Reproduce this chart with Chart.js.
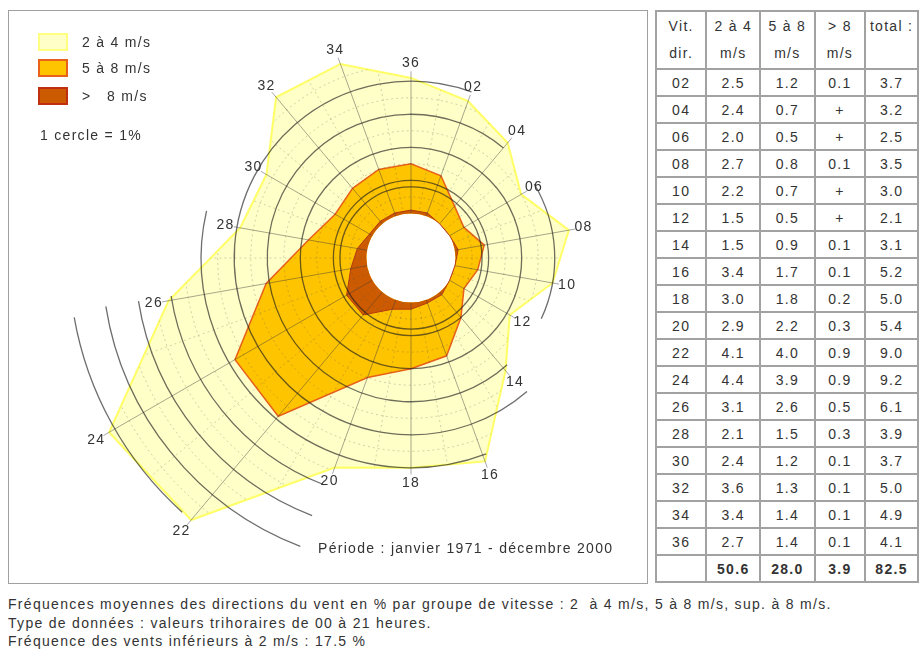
<!DOCTYPE html>
<html lang="fr">
<head>
<meta charset="utf-8">
<script src="https://cdn.jsdelivr.net/npm/chart.js@4.4.1/dist/chart.umd.min.js"></script>
<style>
  html, body { margin: 0; padding: 0; background: #fff; }
  body { width: 919px; height: 657px; overflow: hidden; position: relative;
         font-family: "Liberation Sans", Arial, sans-serif; font-size: 14px; letter-spacing: 1.3px; color: #333; }
  #panel { position: absolute; left: 8px; top: 10px; width: 638px; height: 572px; border: 1px solid #a0a0a0; overflow: hidden; }
  #rose { position: absolute; left: 22px; top: -133px; }
  .leg { position: absolute; left: 29px; width: 30px; height: 18px; box-sizing: border-box; }
  .legtxt { position: absolute; left: 73px; line-height: 18px; }
  #scale { position: absolute; left: 31px; top: 116px; }
  #period { position: absolute; left: 309px; top: 529px; }
  #tbl { position: absolute; left: 655px; top: 10px; border-collapse: collapse; }
  #tbl td { border: 2px solid #a2a2a2; text-align: center; padding: 0; height: 25px; }
  #tbl tr.head td { height: 56px; line-height: 27px; vertical-align: middle; }
  #tbl tr.sum td { font-weight: bold; }
  #foot { position: absolute; left: 8px; top: 595px; line-height: 18.5px; }
</style>
</head>
<body>
<div id="panel">
  <canvas id="rose" width="760" height="760"></canvas>
  <div id="legend"></div>
  <div id="scale">1 cercle = 1%</div>
  <div id="period">Période : janvier 1971 - décembre 2000</div>
</div>
<table id="tbl"></table>
<div id="foot">
  Fréquences moyennes des directions du vent en % par groupe de vitesse : 2 &nbsp;à 4 m/s, 5 à 8 m/s, sup. à 8 m/s.<br>
  Type de données : valeurs trihoraires de 00 à 21 heures.<br>
  Fréquence des vents inférieurs à 2 m/s : 17.5 %
</div>
<script>
// directions (tens of degrees) and frequencies in % per speed group
const directions = ['02','04','06','08','10','12','14','16','18','20','22','24','26','28','30','32','34','36'];
const freq2to4 = [2.5, 2.4, 2.0, 2.7, 2.2, 1.5, 1.5, 3.4, 3.0, 2.9, 4.1, 4.4, 3.1, 2.1, 2.4, 3.6, 3.4, 2.7];
const freq5to8 = [1.2, 0.7, 0.5, 0.8, 0.7, 0.5, 0.9, 1.7, 1.8, 2.2, 4.0, 3.9, 2.6, 1.5, 1.2, 1.3, 1.4, 1.4];
const freqOver8 = [0.1, 0, 0, 0.1, 0, 0, 0.1, 0.1, 0.2, 0.3, 0.9, 0.9, 0.5, 0.3, 0.1, 0.1, 0.1, 0.1];
const freqTotal = [3.7, 3.2, 2.5, 3.5, 3.0, 2.1, 3.1, 5.2, 5.0, 5.4, 9.0, 9.2, 6.1, 3.9, 3.7, 5.0, 4.9, 4.1];
const columnSums = [50.6, 28.0, 3.9, 82.5];
const seriesNames = ['2 à 4 m/s', '5 à 8 m/s', '>  8 m/s'];
const headTop = ['Vit.', '2 à 4', '5 à 8', '> 8', 'total :'];
const headBottom = ['dir.', 'm/s', 'm/s', 'm/s', ''];

const colYellow = '#ffffc8', colOrange = '#ffc400', colBrown = '#cc5a00';

// legend
const legColors = [[colYellow, '#ffff80'], [colOrange, '#e8601a'], [colBrown, '#c03010']];
const legTops = [22, 48, 76];
let legHtml = '';
seriesNames.forEach((n, i) => {
  legHtml += '<div class="leg" style="top:' + legTops[i] + 'px;background:' + legColors[i][0] +
             ';border:2px solid ' + legColors[i][1] + '"></div>';
  legHtml += '<div class="legtxt" style="top:' + legTops[i] + 'px">' + n.replace(/  /g, ' &nbsp; ') + '</div>';
});
document.getElementById('legend').innerHTML = legHtml;

// table
const fmt = v => v === 0 ? '+' : v.toFixed(1);
let tb = '<tr class="head">';
headTop.forEach((h, i) => { tb += '<td>' + h + '<br>' + (headBottom[i] || '&nbsp;') + '</td>'; });
tb += '</tr>';
directions.forEach((d, i) => {
  tb += '<tr><td>' + d + '</td><td>' + fmt(freq2to4[i]) + '</td><td>' + fmt(freq5to8[i]) +
        '</td><td>' + fmt(freqOver8[i]) + '</td><td>' + fmt(freqTotal[i]) + '</td></tr>';
});
tb += '<tr class="sum"><td></td>' + columnSums.map(v => '<td>' + v.toFixed(1) + '</td>').join('') + '</tr>';
const tbl = document.getElementById('tbl');
tbl.innerHTML = tb;
const colW = [50, 53, 54, 50, 52];
tbl.querySelectorAll('tr').forEach(tr => {
  tr.querySelectorAll('td').forEach((td, j) => { td.style.width = colW[j] + 'px'; });
});

// cumulative edges for the stacked rose
const edgeOrange = freq5to8.map((v, i) => +(v + freqOver8[i]).toFixed(2));

// grid circles: [value, start angle, end angle] (degrees clockwise from north)
const circleArcs = [
  [0.8, 0, 360], [1, 0, 360], [2, 0, 360],
  [3, 138, 400], [3, 59, 115],
  [4, 139, 380],
  [5, 159, 283],
  [6, 201, 261], [7, 201, 261], [8, 201, 261],
  [9, 222, 260]
];

const roseGrid = {
  id: 'roseGrid',
  afterDatasetsDraw(chart) {
    const s = chart.scales.r;
    const ctx = chart.ctx;
    const rad = a => (a - 90) * Math.PI / 180;
    const at = (i, v) => s.getPointPosition(i, s.getDistanceFromCenterForValue(v));
    ctx.save();

    // faint dotted sub-grid inside the outer polygon
    ctx.beginPath();
    directions.forEach((d, i) => {
      const p = at(i, freqTotal[i]);
      if (i === 0) ctx.moveTo(p.x, p.y); else ctx.lineTo(p.x, p.y);
    });
    ctx.closePath();
    ctx.clip();
    ctx.setLineDash([2, 3]);
    ctx.lineWidth = 1;
    ctx.strokeStyle = 'rgba(90,90,90,0.28)';
    for (let v = 0.5; v < 10; v += 1) {
      ctx.beginPath();
      ctx.arc(s.xCenter, s.yCenter, s.getDistanceFromCenterForValue(v), 0, Math.PI * 2);
      ctx.stroke();
    }
    directions.forEach((d, i) => {
      const a = rad(20 * i + 30);
      const r0 = s.getDistanceFromCenterForValue(0), r1 = s.getDistanceFromCenterForValue(10);
      ctx.beginPath();
      ctx.moveTo(s.xCenter + r0 * Math.cos(a), s.yCenter + r0 * Math.sin(a));
      ctx.lineTo(s.xCenter + r1 * Math.cos(a), s.yCenter + r1 * Math.sin(a));
      ctx.stroke();
    });
    ctx.restore();

    ctx.save();
    ctx.lineWidth = 1;
    ctx.strokeStyle = 'rgba(60,60,60,0.45)';
    directions.forEach((d, i) => {
      const p0 = at(i, 0);
      const p1 = at(i, freqTotal[i] + 0.2);
      ctx.beginPath();
      ctx.moveTo(p0.x, p0.y);
      ctx.lineTo(p1.x, p1.y);
      ctx.stroke();
    });
    ctx.lineWidth = 1.3;
    ctx.strokeStyle = 'rgba(30,30,30,0.65)';
    circleArcs.forEach(([v, a0, a1]) => {
      ctx.beginPath();
      ctx.arc(s.xCenter, s.yCenter, s.getDistanceFromCenterForValue(v), rad(a0), rad(a1));
      ctx.stroke();
    });
    ctx.fillStyle = '#333';
    ctx.font = '14px "Liberation Sans", Arial, sans-serif';
    ctx.letterSpacing = '1.3px';
    ctx.textAlign = 'center';
    ctx.textBaseline = 'middle';
    directions.forEach((d, i) => {
      const p = at(i, freqTotal[i] + 0.45);
      ctx.fillText(d, p.x, p.y);
    });
    ctx.restore();
  }
};

new Chart(document.getElementById('rose'), {
  type: 'radar',
  data: {
    labels: directions,
    datasets: [
      { label: seriesNames[2], data: freqOver8, fill: 'origin', backgroundColor: colBrown,
        borderColor: '#b83a10', borderWidth: 1 },
      { label: seriesNames[1], data: edgeOrange, fill: 'origin', backgroundColor: colOrange,
        borderColor: '#e8601a', borderWidth: 1.5 },
      { label: seriesNames[0], data: freqTotal, fill: 'origin', backgroundColor: colYellow,
        borderColor: '#ffff66', borderWidth: 2 }
    ]
  },
  options: {
    responsive: false,
    animation: false,
    layout: { padding: 0 },
    elements: { point: { radius: 0 }, line: { tension: 0 } },
    plugins: { legend: { display: false }, tooltip: { enabled: false } },
    scales: {
      r: {
        min: -1.35,
        max: 10.15,
        startAngle: 20,
        grid: { circular: true, display: false },
        angleLines: { display: false },
        ticks: { display: false },
        pointLabels: { display: false }
      }
    }
  },
  plugins: [roseGrid]
});
</script>
</body>
</html>
